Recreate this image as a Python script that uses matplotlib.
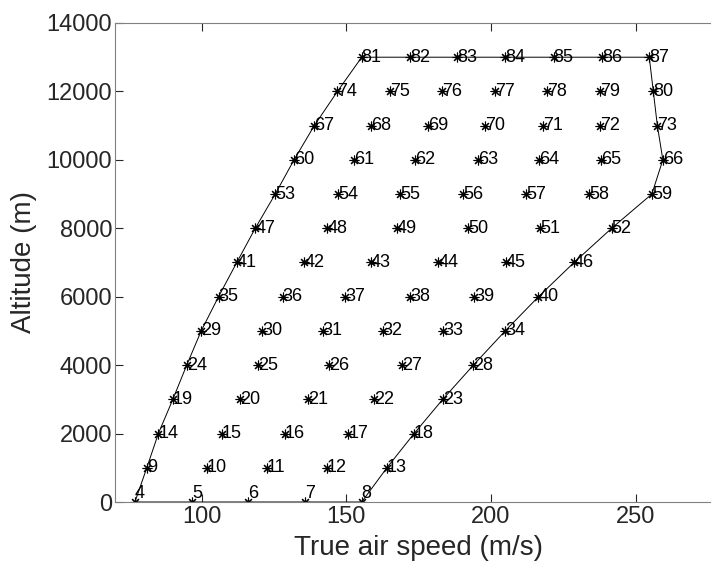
import matplotlib.pyplot as plt
import numpy as np

plt.rcParams['font.family'] = ['Liberation Sans', 'DejaVu Sans']

# flight points: true air speed (m/s) per altitude row, numbered 4..87
altitudes = [0, 1000, 2000, 3000, 4000, 5000, 6000, 7000, 8000, 9000,
             10000, 11000, 12000, 13000]
speeds = [
    [76.9, 96.6, 116.1, 135.7, 155.3],
    [81.0, 101.7, 122.5, 143.2, 164.0],
    [85.0, 106.9, 128.8, 150.7, 173.4],
    [90.0, 113.3, 136.9, 159.6, 183.3],
    [94.8, 119.6, 144.1, 169.1, 193.9],
    [99.8, 120.8, 141.8, 162.6, 183.5, 204.9],
    [105.8, 128.0, 149.6, 172.0, 194.1, 216.4],
    [112.1, 135.4, 158.4, 181.8, 205.2, 228.7],
    [118.5, 143.4, 167.4, 192.2, 217.0, 241.7],
    [125.4, 147.2, 168.6, 190.4, 212.1, 234.0, 255.6],
    [131.9, 152.7, 173.7, 195.4, 216.7, 237.9, 259.4],
    [138.9, 158.4, 178.3, 197.9, 217.9, 237.7, 257.5],
    [146.9, 165.1, 183.2, 201.4, 219.3, 237.7, 256.1],
    [155.3, 172.0, 188.4, 204.9, 221.6, 238.3, 254.7],
]
first_id = 4

xs, ys, ids = [], [], []
n = first_id
for alt, row in zip(altitudes, speeds):
    for v in row:
        xs.append(v)
        ys.append(alt)
        ids.append(n)
        n += 1

# envelope: left edge up, top row across, right edge down
left = [(row[0], alt) for alt, row in zip(altitudes, speeds)]
top = [(v, altitudes[-1]) for v in speeds[-1][1:]]
right = [(row[-1], alt) for alt, row in zip(altitudes[::-1], speeds[::-1])][1:]
env = left + top + right + [left[0]]
ex, ey = zip(*env)

fig = plt.figure(figsize=(7.11, 5.65), dpi=100)
ax = fig.add_axes([0.1617, 0.1115, 0.8544, 0.8478])

ax.plot(ex, ey, color='black', linewidth=0.7)
ax.plot(xs, ys, linestyle='none', marker=(8, 2, 0), color='black',
        markersize=7, markeredgewidth=0.8)
for x, y, i in zip(xs, ys, ids):
    # ground-level labels sit on the axis line
    va = 'bottom' if y == 0 else 'center'
    ax.text(x, y, str(i), ha='left', va=va, fontsize=13, color='black')

ax.set_xlim(70, 280)
ax.set_ylim(0, 14000)
ax.set_xticks([100, 150, 200, 250])
ax.set_yticks(np.arange(0, 14001, 2000))
ax.tick_params(direction='in', top=True, right=True, labelsize=17,
               colors='#262626', length=6, pad=3)
ax.tick_params(axis='y', pad=2)
for s in ax.spines.values():
    s.set_color('#808080')
ax.set_xlabel('True air speed (m/s)', fontsize=20, color='#262626', labelpad=5)
ax.set_ylabel('Altitude (m)', fontsize=20, color='#262626', labelpad=7)

fig.savefig('out.png', dpi=100)
